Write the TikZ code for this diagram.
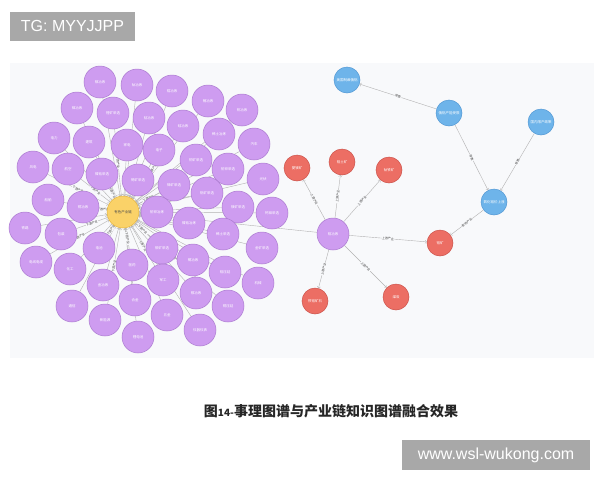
\documentclass[tikz,border=0pt]{standalone}
\usepackage{fontspec}
\setmainfont{Liberation Sans}
\newfontfamily\cjk{Noto Sans CJK SC}
\usetikzlibrary{backgrounds}

\definecolor{nodepurple}{RGB}{206,156,240}
\definecolor{linepurple}{RGB}{172,124,208}
\definecolor{nodeyellow}{RGB}{250,210,104}
\definecolor{lineyellow}{RGB}{226,178,62}
\definecolor{nodered}{RGB}{236,110,100}
\definecolor{linered}{RGB}{204,82,74}
\definecolor{nodeblue}{RGB}{110,180,234}
\definecolor{lineblue}{RGB}{82,152,212}
\definecolor{panelgray}{RGB}{248,249,251}
\definecolor{markgray}{RGB}{168,168,168}

\tikzset{
	purplenode/.style={circle, fill=nodepurple, draw=linepurple, line width=0.5pt,
		minimum size=32pt, inner sep=0pt, text=white, font=\cjk\fontsize{3.5}{4}\selectfont},
	corenode/.style={purplenode, fill=nodeyellow, draw=lineyellow, text=black!70},
	rednode/.style={purplenode, fill=nodered, draw=linered, minimum size=26pt},
	bluenode/.style={purplenode, fill=nodeblue, draw=lineblue, minimum size=26pt},
	graphedge/.style={->, draw=gray!60, line width=0.4pt},
	edgelabel/.style={sloped, fill=panelgray, inner sep=0.5pt, text=black!75,
		font=\cjk\fontsize{3}{3}\selectfont},
	markbox/.style={fill=markgray, text=white, inner sep=0pt}
}

\begin{document}
\begin{tikzpicture}[x=1pt, y=-1pt]
	
	\useasboundingbox (0,0) rectangle (600,480);
	\begin{scope}[on background layer]
		\fill [panelgray] (10,63) rectangle (594,358);
	\end{scope}
	
	% industry chain: core node and its segments
	\node [corenode] (core) at (123,212) {有色产业链};
	\foreach \x/\y/\t [count=\i] in {
		100/82/镁冶炼, 137/85/钛冶炼, 172/91/锆冶炼, 208/101/锗冶炼, 242/110/钒冶炼,
		77/108/锑冶炼, 113/113/锂矿采选, 149/118/钴冶炼, 183/126/硅冶炼, 219/134/稀土冶炼,
		254/144/汽车, 54/138/电力, 89/142/建筑, 127/145/家电, 159/150/电子,
		196/160/铜矿采选, 228/169/铅锌采选, 263/179/光伏, 33/167/风电, 68/169/航空,
		102/174/镍钴采选, 138/180/锡矿采选, 174/185/锑矿采选, 207/193/铝矿采选, 238/207/镁矿采选,
		272/213/钨钼采选, 48/200/船舶, 83/207/铜冶炼, 157/212/铅锌冶炼, 189/223/镍钴冶炼,
		223/234/稀土采选, 262/248/金矿采选, 25/228/铁路, 61/234/包装, 99/248/电池,
		162/248/银矿采选, 193/260/锡冶炼, 225/272/铝压延, 258/283/机械, 36/262/电线电缆,
		70/269/化工, 132/265/医药, 163/280/军工, 103/285/金冶炼, 196/293/银冶炼,
		228/306/铜压延, 72/306/通信, 135/300/合金, 167/315/五金, 105/320/新能源,
		200/330/仪器仪表, 138/337/锂电池}
	{
		\node [purplenode] (p\i) at (\x,\y) {\t};
		\begin{scope}[on background layer]
			\draw [graphedge] (p\i) -- (core);
		\end{scope}
	}
	% labels that show between the nodes
	\begin{scope}[on background layer]
		\foreach \i in {7,9,19,20,21,23,28,34,35,36,40,42,43,46,50}
		\path (p\i) -- node [edgelabel] {下游产业} (core);
	\end{scope}
	
	% hub of the right cluster and its raw materials
	\node [purplenode] (hub) at (333,234) {铝冶炼};
	\node [rednode] (ore1) at (297,168) {菱镁矿};
	\node [rednode] (ore2) at (342,162) {铝土矿};
	\node [rednode] (ore3) at (389,170) {钛铁矿};
	\node [rednode] (ore4) at (440,243) {铝矿};
	\node [rednode] (ore5) at (315,301) {铁铝矿石};
	\node [rednode] (ore6) at (396,297) {煤炭};
	
	% event graph
	\node [bluenode] (ev1) at (347,80) {美国制裁俄铝};
	\node [bluenode] (ev2) at (449,113) {俄铝产能受限};
	\node [bluenode] (ev3) at (541,122) {国内限产政策};
	\node [bluenode] (ev4) at (494,202) {氧化铝价上涨};
	
	\begin{scope}[on background layer]
		\draw [graphedge] (hub) -- (core);
		\foreach \i in {1,...,6}
		\draw [graphedge] (hub) -- node [edgelabel] {上游产业} (ore\i);
		\draw [graphedge] (ev2) -- node [edgelabel] {导致} (ev1);
		\draw [graphedge] (ev2) -- node [edgelabel] {导致} (ev4);
		\draw [graphedge] (ev3) -- node [edgelabel] {导致} (ev4);
		\draw [graphedge] (ev4) -- node [edgelabel] {影响产业} (ore4);
	\end{scope}
	
	% caption and marks
	\node [font=\cjk\bfseries\fontsize{14}{14}\selectfont, text=black!85] (caption) at (331,411)
	{图{\fontsize{10}{10}\selectfont 14-}事理图谱与产业链知识图谱融合效果};
	\node [markbox, minimum width=125pt, minimum height=29pt,
	font=\fontsize{16}{16}\selectfont] (tg) at (72.5,26) {TG: MYYJJPP};
	\node [markbox, minimum width=188pt, minimum height=30pt,
	font=\fontsize{16}{16}\selectfont] (site) at (496,455) {www.wsl-wukong.com};
	
\end{tikzpicture}
\end{document}
